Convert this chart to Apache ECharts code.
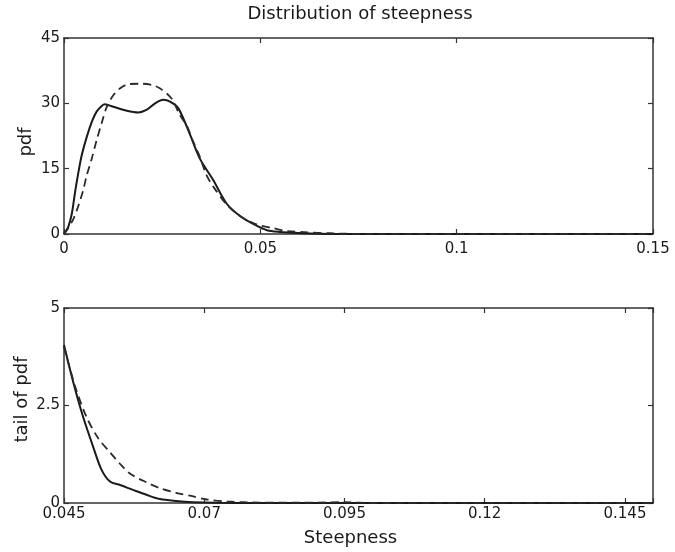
<!DOCTYPE html>
<html>
<head>
<meta charset="utf-8">
<script src="https://cdn.jsdelivr.net/npm/echarts@6/dist/echarts.min.js"></script>
<style>
html,body{margin:0;padding:0;background:#fff;}
#chart{width:675px;height:552px;}
</style>
</head>
<body>
<div id="chart"></div>
<script>
// ---- Data ----
const titleText = 'Distribution of steepness';
const topYName = 'pdf';
const bottomYName = 'tail of pdf';
const bottomXName = 'Steepness';

const topXTicks = [0, 0.05, 0.1, 0.15];
const topXLabels = ['0', '0.05', '0.1', '0.15'];
const topYTicks = [0, 15, 30, 45];
const topYLabels = ['0', '15', '30', '45'];
const bottomXTicks = [0.045, 0.07, 0.095, 0.12, 0.145];
const bottomXLabels = ['0.045', '0.07', '0.095', '0.12', '0.145'];
const bottomYTicks = [0, 2.5, 5];
const bottomYLabels = ['0', '2.5', '5'];

// Top panel, solid curve
const topSolidX = [0, 0.0011, 0.0020, 0.0028, 0.0036, 0.0045, 0.0058, 0.0071, 0.0083, 0.0096, 0.0104, 0.0126, 0.0160, 0.0189, 0.0210, 0.0232, 0.0253, 0.0270, 0.0291, 0.0321, 0.0346, 0.0380, 0.0414, 0.0450, 0.0484, 0.0517, 0.0550, 0.0597, 0.0650, 0.0720, 0.1000, 0.1500];
const topSolidY = [0, 1.7, 4.7, 9.5, 13.8, 18.0, 22.3, 25.8, 28.1, 29.4, 29.8, 29.2, 28.3, 27.9, 28.5, 30.0, 30.8, 30.4, 28.9, 22.8, 17.3, 12.4, 7.0, 4.0, 2.2, 0.85, 0.46, 0.21, 0.05, 0.0, 0.0, 0.0];

// Top panel, dashed curve
const topDashX = [0, 0.0012, 0.0024, 0.0036, 0.0049, 0.0058, 0.0071, 0.0083, 0.0096, 0.0109, 0.0126, 0.0145, 0.0164, 0.0198, 0.0225, 0.0245, 0.0274, 0.0295, 0.0312, 0.0329, 0.0346, 0.0363, 0.0380, 0.0414, 0.0450, 0.0490, 0.0532, 0.0568, 0.0621, 0.0677, 0.0705, 0.0800, 0.1000, 0.1500];
const topDashY = [0, 1.5, 3.5, 6.3, 10.1, 13.5, 17.4, 21.5, 25.5, 29.2, 31.9, 33.6, 34.4, 34.5, 34.2, 33.4, 31.1, 27.3, 25.0, 21.2, 17.7, 13.5, 10.9, 6.8, 4.0, 2.2, 1.36, 0.67, 0.38, 0.19, 0.08, 0.02, 0.0, 0.0];

// Bottom panel (tail), solid curve
const tailSolidX = [0.045, 0.0467, 0.0484, 0.0502, 0.0517, 0.0532, 0.0550, 0.0574, 0.0597, 0.0621, 0.0650, 0.0680, 0.0720, 0.0800, 0.1000, 0.1500];
const tailSolidY = [4.05, 3.07, 2.21, 1.44, 0.85, 0.55, 0.46, 0.33, 0.21, 0.10, 0.05, 0.02, 0.005, 0.0, 0.0, 0.0];

// Bottom panel (tail), dashed curve
const tailDashX = [0.045, 0.0470, 0.0490, 0.0511, 0.0532, 0.0550, 0.0568, 0.0597, 0.0621, 0.0650, 0.0677, 0.0705, 0.0740, 0.0800, 0.0900, 0.0950, 0.1000, 0.1200, 0.1500];
const tailDashY = [4.0, 2.98, 2.21, 1.66, 1.30, 1.00, 0.75, 0.53, 0.38, 0.26, 0.18, 0.09, 0.04, 0.01, 0.01, 0.02, 0.0, 0.005, 0.0];

// ---- Chart ----
const zip = (xs, ys) => xs.map((x, i) => [x, ys[i]]);
const labelFor = (ticks, labels) => v => {
  for (let i = 0; i < ticks.length; i++) if (Math.abs(v - ticks[i]) < 1e-9) return labels[i];
  return '';
};
const FONT = 'DejaVu Sans';
const INK = '#1a1a1a';
const frameLine = {show: true, onZero: false, lineStyle: {color: '#333', width: 1.5}};
const tick = {show: true, inside: true, length: 5, lineStyle: {color: '#333', width: 1.2}};

const chart = echarts.init(document.getElementById('chart'), null, {renderer: 'canvas'});
chart.setOption({
  backgroundColor: '#fff',
  animation: false,
  graphic: [{
    type: 'text', x: 360, y: 5,
    style: {text: titleText, fontFamily: FONT, fontSize: 18, fill: INK, align: 'center', verticalAlign: 'top'}
  }],
  grid: [
    {left: 64, top: 38, width: 589, height: 196},
    {left: 64, top: 308, width: 589, height: 195}
  ],
  xAxis: [
    {type: 'value', gridIndex: 0, position: 'bottom', min: 0, max: 0.15, interval: 0.05,
     axisLine: frameLine, axisTick: tick, splitLine: {show: false},
     axisLabel: {show: true, margin: 8, fontFamily: FONT, fontSize: 15, color: INK, formatter: labelFor(topXTicks, topXLabels)}},
    {type: 'value', gridIndex: 0, position: 'top', min: 0, max: 0.15, interval: 0.05,
     axisLine: frameLine, axisTick: tick, splitLine: {show: false}, axisLabel: {show: false}},
    {type: 'value', gridIndex: 1, position: 'bottom', min: 0.045, max: 0.15, interval: 0.025,
     axisLine: frameLine, axisTick: tick, splitLine: {show: false},
     axisLabel: {show: true, margin: 4, fontFamily: FONT, fontSize: 15, color: INK, formatter: labelFor(bottomXTicks, bottomXLabels)},
     name: bottomXName, nameLocation: 'middle', nameGap: 26, nameMoveOverlap: false,
     nameTextStyle: {fontFamily: FONT, fontSize: 18, color: INK, padding: [0, 16, 0, 0]}},
    {type: 'value', gridIndex: 1, position: 'top', min: 0.045, max: 0.15, interval: 0.025,
     axisLine: frameLine, axisTick: tick, splitLine: {show: false}, axisLabel: {show: false}}
  ],
  yAxis: [
    {type: 'value', gridIndex: 0, position: 'left', min: 0, max: 45, interval: 15,
     axisLine: frameLine, axisTick: tick, splitLine: {show: false},
     axisLabel: {show: true, margin: 4, fontFamily: FONT, fontSize: 15, color: INK, formatter: labelFor(topYTicks, topYLabels)},
     name: topYName, nameLocation: 'middle', nameGap: 29, nameMoveOverlap: false,
     nameTextStyle: {fontFamily: FONT, fontSize: 18, color: INK, padding: [0, 12, 0, 0]}},
    {type: 'value', gridIndex: 0, position: 'right', min: 0, max: 45, interval: 15,
     axisLine: frameLine, axisTick: tick, splitLine: {show: false}, axisLabel: {show: false}},
    {type: 'value', gridIndex: 1, position: 'left', min: 0, max: 5, interval: 2.5,
     axisLine: frameLine, axisTick: tick, splitLine: {show: false},
     axisLabel: {show: true, margin: 4, fontFamily: FONT, fontSize: 15, color: INK, formatter: labelFor(bottomYTicks, bottomYLabels)},
     name: bottomYName, nameLocation: 'middle', nameGap: 33, nameMoveOverlap: false,
     nameTextStyle: {fontFamily: FONT, fontSize: 18, color: INK, padding: [0, 0, 0, 12]}},
    {type: 'value', gridIndex: 1, position: 'right', min: 0, max: 5, interval: 2.5,
     axisLine: frameLine, axisTick: tick, splitLine: {show: false}, axisLabel: {show: false}}
  ],
  series: [
    {type: 'line', xAxisIndex: 0, yAxisIndex: 0, data: zip(topSolidX, topSolidY), smooth: 0.3, showSymbol: false,
     lineStyle: {color: '#1a1a1a', width: 2, type: 'solid'}, clip: true},
    {type: 'line', xAxisIndex: 0, yAxisIndex: 0, data: zip(topDashX, topDashY), smooth: 0.3, showSymbol: false,
     lineStyle: {color: '#2a2a2a', width: 1.8, type: [8, 5]}, clip: true},
    {type: 'line', xAxisIndex: 2, yAxisIndex: 2, data: zip(tailSolidX, tailSolidY), smooth: 0.3, showSymbol: false,
     lineStyle: {color: '#1a1a1a', width: 2, type: 'solid'}, clip: true},
    {type: 'line', xAxisIndex: 2, yAxisIndex: 2, data: zip(tailDashX, tailDashY), smooth: 0.3, showSymbol: false,
     lineStyle: {color: '#2a2a2a', width: 1.8, type: [8, 5]}, clip: true}
  ]
});
</script>
</body>
</html>
